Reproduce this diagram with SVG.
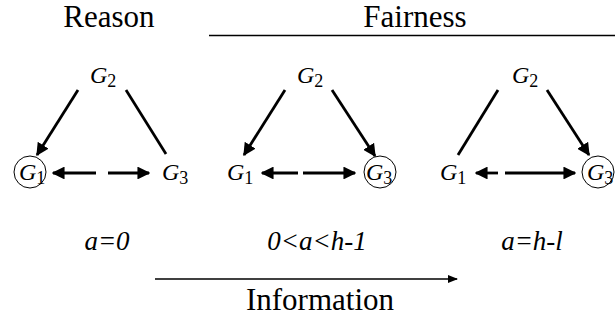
<svg xmlns="http://www.w3.org/2000/svg" width="615" height="320" viewBox="0 0 615 320">
<rect width="615" height="320" fill="#fff"/>
<defs>
<marker id="ah" viewBox="0 0 10 10" refX="9" refY="5" markerWidth="4.6" markerHeight="4.6" orient="auto" markerUnits="strokeWidth">
<path d="M0,0 L10,5 L0,10 z" fill="#000"/>
</marker>
<marker id="sa" viewBox="0 0 10 10" refX="9" refY="5" markerWidth="7" markerHeight="7" orient="auto" markerUnits="strokeWidth">
<path d="M0,1 L10,5 L0,9 z" fill="#000"/>
</marker>
</defs>
<g id="headers">
<text x="109" y="27" font-size="31" text-anchor="middle" font-family="Liberation Serif" style="font-family:'Liberation Serif'">Reason</text>
<text x="415" y="27" font-size="31" text-anchor="middle" font-family="Liberation Serif" style="font-family:'Liberation Serif'">Fairness</text>
<line x1="209" y1="35.5" x2="615" y2="35.5" stroke="#000" stroke-width="1.5"/>
</g>
<g id="reason-G2"><text x="90" y="83" font-size="24" font-style="italic" font-family="Liberation Serif" style="font-family:'Liberation Serif'">G<tspan font-style="normal" font-size="18" dy="4">2</tspan></text></g>
<g id="reason-G1"><circle cx="30" cy="172" r="16" fill="none" stroke="#000"/><text x="19" y="180" font-size="24" font-style="italic" font-family="Liberation Serif" style="font-family:'Liberation Serif'">G<tspan font-style="normal" font-size="18" dy="4">1</tspan></text></g>
<g id="reason-G3"><text x="162" y="180" font-size="24" font-style="italic" font-family="Liberation Serif" style="font-family:'Liberation Serif'">G<tspan font-style="normal" font-size="18" dy="4">3</tspan></text></g>
<g id="fair-G2"><text x="297" y="83" font-size="24" font-style="italic" font-family="Liberation Serif" style="font-family:'Liberation Serif'">G<tspan font-style="normal" font-size="18" dy="4">2</tspan></text></g>
<g id="fair-G1"><text x="227" y="180" font-size="24" font-style="italic" font-family="Liberation Serif" style="font-family:'Liberation Serif'">G<tspan font-style="normal" font-size="18" dy="4">1</tspan></text></g>
<g id="fair-G3"><circle cx="380" cy="172" r="16" fill="none" stroke="#000"/><text x="366" y="180" font-size="24" font-style="italic" font-family="Liberation Serif" style="font-family:'Liberation Serif'">G<tspan font-style="normal" font-size="18" dy="4">3</tspan></text></g>
<g id="full-G2"><text x="512" y="83" font-size="24" font-style="italic" font-family="Liberation Serif" style="font-family:'Liberation Serif'">G<tspan font-style="normal" font-size="18" dy="4">2</tspan></text></g>
<g id="full-G1"><text x="440" y="180" font-size="24" font-style="italic" font-family="Liberation Serif" style="font-family:'Liberation Serif'">G<tspan font-style="normal" font-size="18" dy="4">1</tspan></text></g>
<g id="full-G3"><circle cx="598" cy="172" r="16" fill="none" stroke="#000"/><text x="587" y="180" font-size="24" font-style="italic" font-family="Liberation Serif" style="font-family:'Liberation Serif'">G<tspan font-style="normal" font-size="18" dy="4">3</tspan></text></g>
<g id="connectors" stroke="#000" stroke-width="2.8" fill="none">
<line x1="78" y1="90" x2="37" y2="155" marker-end="url(#ah)"/>
<line x1="126" y1="90" x2="166" y2="154"/>
<line x1="96" y1="173" x2="53" y2="173" marker-end="url(#ah)"/>
<line x1="108" y1="173" x2="149" y2="173" marker-end="url(#ah)"/>
<line x1="285" y1="90" x2="244" y2="155" marker-end="url(#ah)"/>
<line x1="332" y1="90" x2="375" y2="156" marker-end="url(#ah)"/>
<line x1="298" y1="173" x2="262" y2="173" marker-end="url(#ah)"/>
<line x1="303" y1="173" x2="355" y2="173" marker-end="url(#ah)"/>
<line x1="498" y1="90" x2="458" y2="155"/>
<line x1="547" y1="90" x2="589" y2="155" marker-end="url(#ah)"/>
<line x1="498" y1="173" x2="476" y2="173" marker-end="url(#ah)"/>
<line x1="505" y1="173" x2="575" y2="173" marker-end="url(#ah)"/>
<line x1="155" y1="279" x2="457" y2="279" stroke-width="1.5" marker-end="url(#sa)"/>
</g>
<g id="labels">
<text x="107" y="250" font-size="27" font-style="italic" text-anchor="middle" font-family="Liberation Serif" style="font-family:'Liberation Serif'">a=0</text>
<text x="317" y="250" font-size="27" font-style="italic" text-anchor="middle" font-family="Liberation Serif" style="font-family:'Liberation Serif'">0&lt;a&lt;h-1</text>
<text x="532" y="250" font-size="27" font-style="italic" text-anchor="middle" font-family="Liberation Serif" style="font-family:'Liberation Serif'">a=h-l</text>
<text x="320" y="310" font-size="31" text-anchor="middle" font-family="Liberation Serif" style="font-family:'Liberation Serif'">Information</text>
</g>
</svg>
